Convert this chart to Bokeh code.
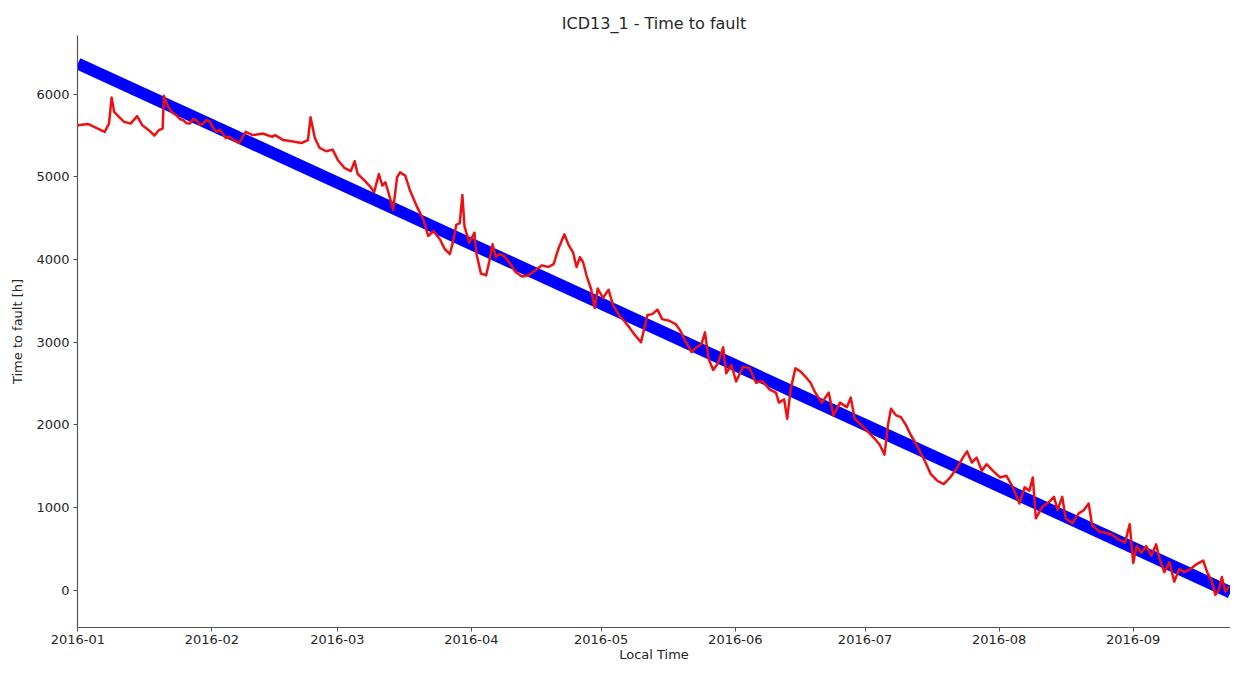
import pandas as pd
from bokeh.plotting import figure
from bokeh.models import Range1d, DatetimeTickFormatter, MonthsTicker, FixedTicker, NumeralTickFormatter
from bokeh.embed import file_html
from bokeh.resources import INLINE

title_text = "ICD13_1 - Time to fault"
x_label = "Local Time"
y_label = "Time to fault [h]"
start_date = "2016-01-01"

# blue reference line (days since start, hours to fault)
model_days = [0.0, 266.5]
model_hours = [6370, -26]

# red measured/predicted series (days since start, hours)
red_days = [
    0.0, 2.3, 4.6, 6.2, 7.2, 7.8, 8.4, 9.5, 10.7, 12.2, 13.7, 14.9, 16.4, 17.7, 18.7, 19.6,
    19.9, 20.6, 21.2, 21.7, 22.3, 22.8, 23.6, 24.4, 25.1, 25.9, 26.6, 27.4, 28.2, 28.9, 29.7,
    30.5, 31.2, 32.0, 32.8, 33.5, 34.2, 35.0, 36.2, 37.3, 38.8, 40.4, 42.7, 44.9,
    45.6, 47.5, 49.4, 51.7, 53.2, 53.8, 54.8, 55.9, 57.4, 58.9, 60.1, 61.6, 63.1, 64.0, 64.7,
    66.2, 67.7, 68.5, 69.6, 70.4, 71.1, 71.9, 72.9, 73.8, 74.5, 75.7, 76.8, 78.4, 79.9, 81.0,
    82.2, 83.7, 84.8, 86.0, 86.7, 87.5, 88.3, 88.9, 89.4, 90.5, 91.7, 92.1, 93.2, 94.4, 95.1,
    95.9, 96.6, 97.4, 98.5, 99.7, 101.2, 102.7, 104.2, 105.8, 107.3, 108.8, 110.0, 111.1,
    112.5, 113.4, 114.5, 115.3, 116.1, 116.8, 117.6, 118.7, 119.5, 120.2, 121.4, 122.7,
    123.7, 125.2, 126.3, 127.5, 128.6, 130.2, 131.7, 132.8, 134.0, 135.1, 136.7, 138.2,
    139.3, 140.4, 141.9, 143.1, 144.2, 145.0, 145.8, 146.9, 148.0, 149.2, 149.9, 151.1,
    152.2, 153.8, 155.3, 156.8, 158.3, 159.9, 161.4, 162.1, 163.3, 164.0, 164.8, 165.9,
    167.1, 168.2, 169.4, 170.5, 172.0, 173.6, 174.7, 176.2, 177.8, 178.7, 179.6, 181.2,
    182.7, 184.2, 185.4, 186.5, 187.3, 188.0, 189.2, 190.3, 191.5, 192.6, 193.7, 194.9,
    196.0, 197.2, 198.7, 200.2, 201.7, 203.3, 204.8, 205.6, 206.7, 207.8, 209.0, 210.1,
    211.6, 213.2, 214.7, 216.2, 217.7, 218.9, 220.0, 220.8, 221.5, 223.0, 224.6, 225.7,
    226.5, 227.6, 228.4, 229.9, 231.4, 232.6, 233.7, 234.5, 236.0, 237.5, 239.0, 240.6,
    242.1, 243.2, 244.0, 244.8, 245.9, 247.0, 248.2, 249.3, 250.1, 251.2, 252.4, 253.5,
    254.7, 255.8, 257.3, 258.8, 260.2, 261.1, 262.2, 263.0, 263.8, 264.5, 265.3, 266.1,
]
red_hours = [
    5625, 5640, 5585, 5545, 5645, 5960, 5785, 5725, 5665, 5645, 5735, 5625, 5565, 5500, 5565, 5585,
    5980, 5880, 5820, 5785, 5760, 5745, 5700, 5685, 5650, 5645, 5700, 5685, 5630, 5645, 5690,
    5665, 5600, 5545, 5570, 5525, 5470, 5485, 5440, 5410, 5545, 5505, 5525, 5485,
    5505, 5445, 5430, 5410, 5445, 5720, 5470, 5350, 5310, 5330, 5205, 5110, 5070, 5190, 5035,
    4960, 4875, 4815, 5035, 4895, 4935, 4795, 4600, 4995, 5055, 5015, 4835, 4640, 4480, 4285,
    4345, 4245, 4130, 4065, 4205, 4420, 4440, 4780, 4400, 4205, 4325, 4085, 3830, 3810, 3970,
    4185, 4030, 4065, 4045, 3970, 3850, 3795, 3810, 3870, 3930, 3910, 3945, 4130,
    4305, 4185, 4085, 3910, 4030, 3970, 3810, 3635, 3415, 3650, 3535, 3635,
    3455, 3320, 3260, 3180, 3100, 3000, 3330, 3340, 3395, 3280, 3260, 3220,
    3140, 3020, 2880, 2940, 2980, 3120, 2805, 2665, 2745, 2940, 2625, 2725,
    2525, 2705, 2685, 2510, 2530, 2430, 2390, 2270, 2310, 2075, 2430, 2685,
    2645, 2585, 2510, 2390, 2270, 2390, 2115, 2270, 2215, 2330, 2075, 1995,
    1915, 1835, 1760, 1640, 1995, 2195, 2115, 2095, 1995, 1875, 1780, 1660,
    1545, 1405, 1325, 1285, 1365, 1485, 1620, 1680, 1545, 1605, 1445, 1525,
    1445, 1365, 1385, 1245, 1050, 1245, 1205, 1365, 870, 1010, 1070, 1130,
    970, 1130, 870, 810, 930, 970, 1050, 790, 715, 695, 675, 615,
    575, 800, 330, 535, 455, 535, 420, 555, 380, 220, 340, 105,
    260, 220, 260, 320, 360, 220, 105, -55, 5, 160, -15, 45,
]
y_ticks = [0, 1000, 2000, 3000, 4000, 5000, 6000]

t0 = pd.Timestamp(start_date)
model_t = [t0 + pd.to_timedelta(d, unit="D") for d in model_days]
red_t = [t0 + pd.to_timedelta(d, unit="D") for d in red_days]

FONT = "DejaVu Sans"
TXT = "#262626"

p = figure(width=1230, height=664, x_axis_type="datetime", output_backend="svg",
           toolbar_location=None, title=title_text,
           min_border_left=77, min_border_right=0, min_border_top=35, min_border_bottom=34)
p.x_range = Range1d(t0 - pd.Timedelta(hours=2), t0 + pd.to_timedelta(266.5, unit="D"))
p.y_range = Range1d(-450, 6710)

p.line(model_t, model_hours, line_color="#0000ff", line_width=12)
p.line(red_t, red_hours, line_color="#ee1111", line_width=2.5, line_join="round")

p.title.align = "center"
p.title.text_font = FONT
p.title.text_font_size = "16px"
p.title.text_font_style = "normal"
p.title.text_color = TXT
p.title.standoff = 5
p.title.offset = 0

p.xgrid.visible = False
p.ygrid.visible = False
p.outline_line_color = None

p.xaxis.ticker = MonthsTicker(months=list(range(1, 13)))
p.xaxis.formatter = DatetimeTickFormatter(months="%Y-%m", days="%Y-%m", years="%Y-%m")
p.yaxis.ticker = FixedTicker(ticks=y_ticks)
p.yaxis.formatter = NumeralTickFormatter(format="0")

for ax in (p.xaxis, p.yaxis):
    ax.axis_line_color = "#555555"
    ax.axis_line_width = 1.2
    ax.major_tick_line_color = "#555555"
    ax.major_tick_out = 4
    ax.major_tick_in = 0
    ax.minor_tick_out = 0
    ax.minor_tick_in = 0
    ax.major_label_text_font = FONT
    ax.major_label_text_font_size = "13px"
    ax.major_label_text_color = TXT
    ax.axis_label_text_font = FONT
    ax.axis_label_text_font_size = "13px"
    ax.axis_label_text_font_style = "normal"
    ax.axis_label_text_color = TXT

p.xaxis.axis_label = x_label
p.yaxis.axis_label = y_label
p.xaxis.major_label_standoff = 3
p.xaxis.axis_label_standoff = 0
p.yaxis.major_label_standoff = 4
p.yaxis.axis_label_standoff = 8

open("out.html", "w").write(file_html(p, INLINE))
